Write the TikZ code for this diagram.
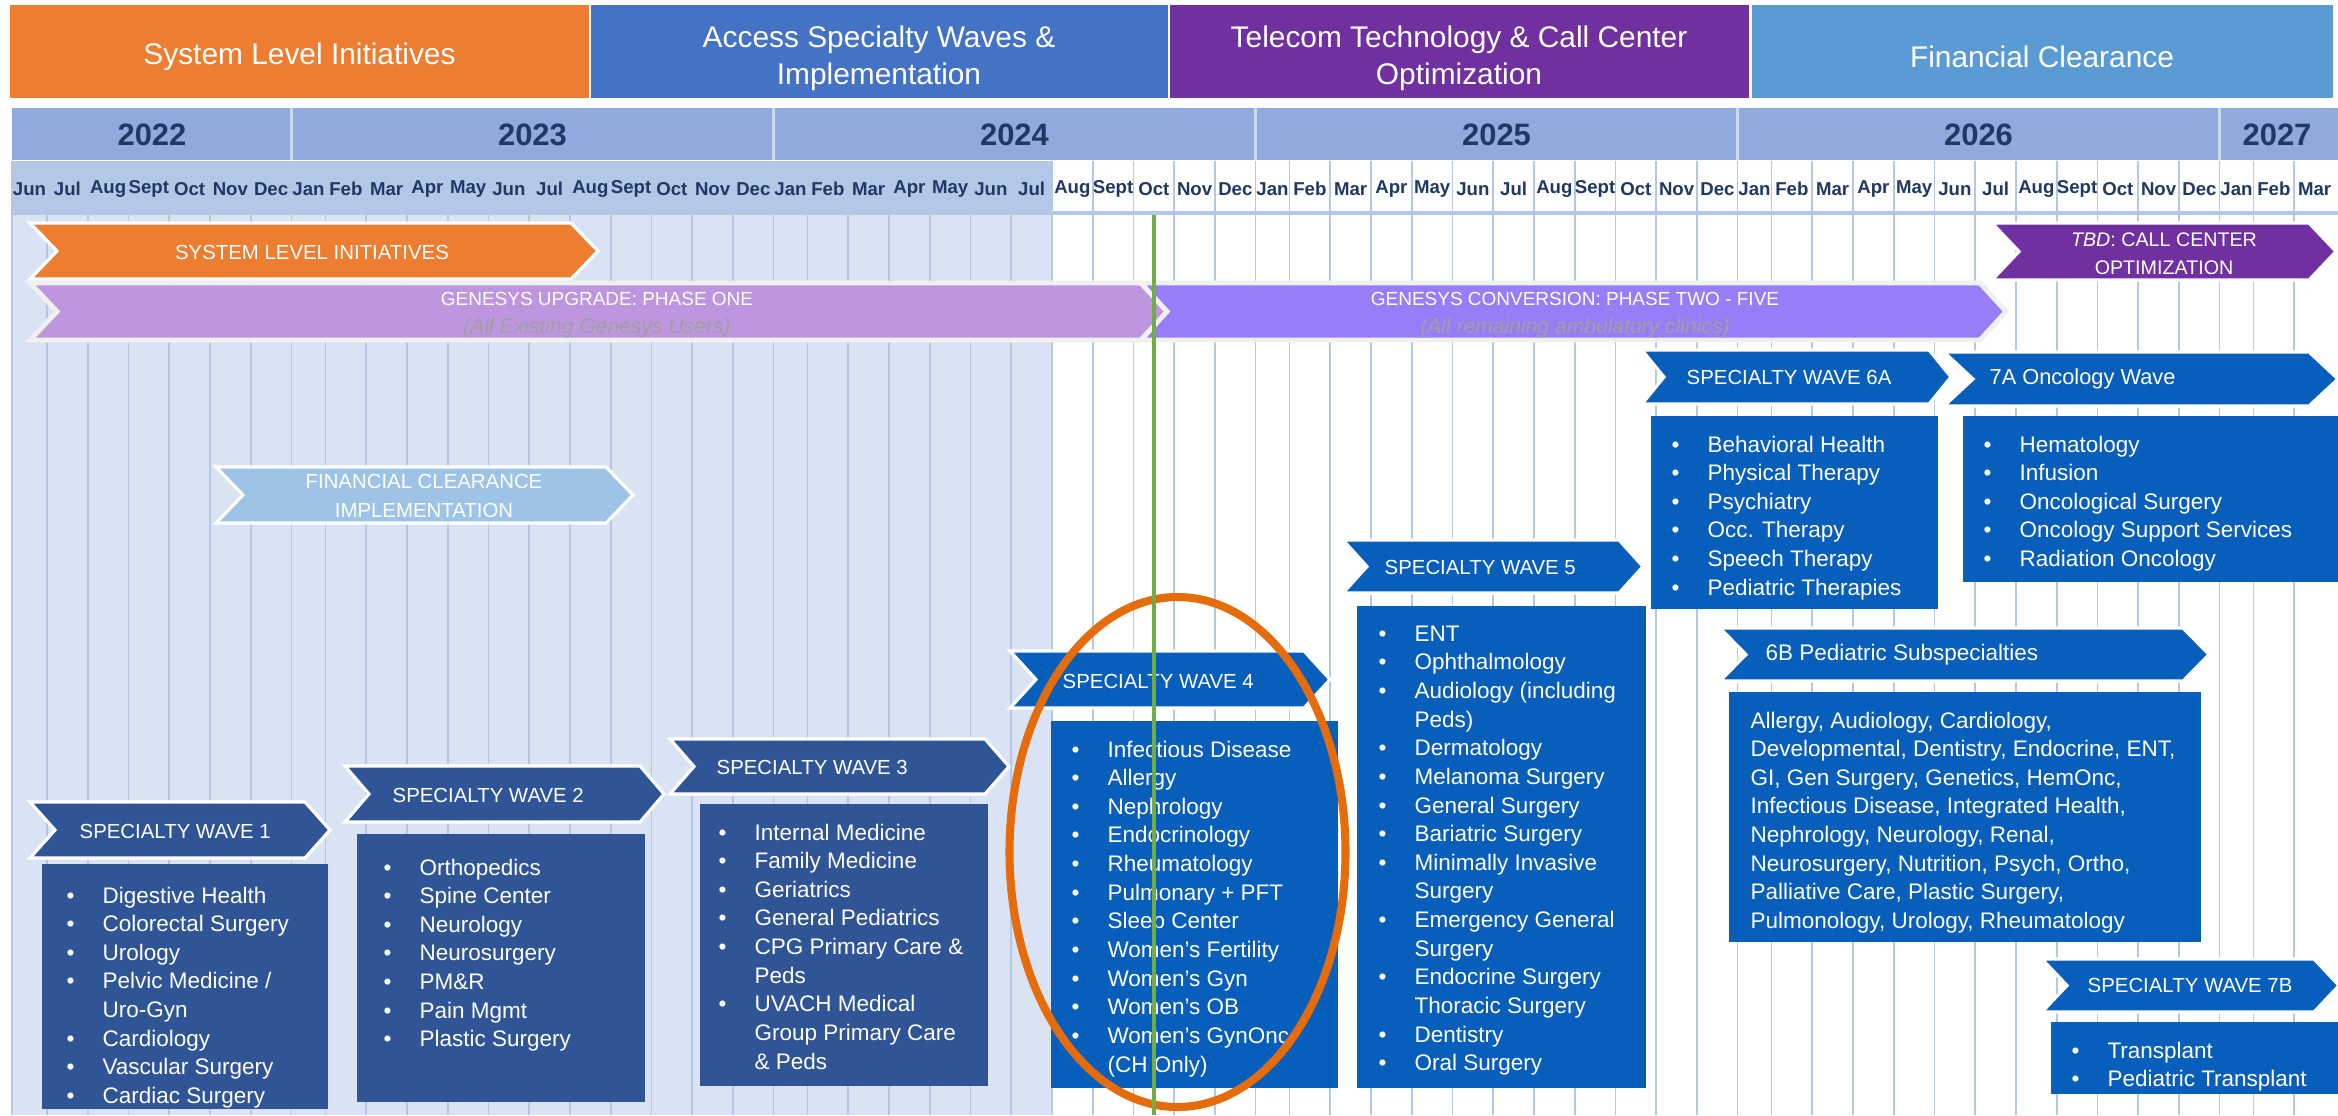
\documentclass[tikz,border=0pt]{standalone}
\usepackage{fontspec}
\setmainfont{Liberation Sans}
\usetikzlibrary{calc}

\definecolor{hdrorange}{HTML}{ED7D31}
\definecolor{hdrblue}{HTML}{4472C4}
\definecolor{hdrpurple}{HTML}{7030A0}
\definecolor{hdrsky}{HTML}{5B9BD5}
\definecolor{yearfill}{HTML}{8FAADC}
\definecolor{monthfill}{HTML}{B4C7E7}
\definecolor{pastfill}{HTML}{DAE3F3}
\definecolor{gridblue}{HTML}{B4C7E7}
\definecolor{navytext}{HTML}{1F3864}
\definecolor{waveold}{HTML}{2F5597}
\definecolor{wavenew}{RGB}{8,94,187}
\definecolor{genone}{RGB}{190,149,223}
\definecolor{gentwo}{RGB}{152,125,248}
\definecolor{fcblue}{HTML}{9DC3E6}
\definecolor{nowgreen}{HTML}{70AD47}
\definecolor{ringorange}{RGB}{228,108,10}
\definecolor{subgray}{RGB}{160,160,160}

% chevron: x left, y top, x back edge, y bottom, depth, extra style
\newcommand{\chevshape}[6]{%
  \filldraw[chevline,#6] (#1,#2) -- (#3,#2) -- ({#3+#5},{(#2+#4)/2}) -- (#3,#4)
    -- (#1,#4) -- ({#1+#5},{(#2+#4)/2}) -- cycle;}
\newcommand{\lbul}{\makebox[10.2pt][l]{\textbullet}}
\newcommand{\lind}{\hspace*{10.2pt}}

\begin{document}
\begin{tikzpicture}[x=0.1mm, y=-0.1mm,
  hdrtext/.style={text=white, font=\fontsize{8.5}{10.5}\selectfont, align=center},
  yeartext/.style={text=navytext, font=\fontsize{8.8}{10}\selectfont\bfseries},
  monthtext/.style={text=navytext, font=\fontsize{5.3}{6}\selectfont\bfseries, inner sep=0},
  chevline/.style={draw=white, line width=0.9pt},
  chevtext/.style={text=white, font=\fontsize{5.8}{7}\selectfont, anchor=west, inner sep=0},
  listtext/.style={text=white, font=\fontsize{6.4}{8.15}\selectfont, align=left, anchor=north west, inner sep=0},
  gridline/.style={draw=gridblue, line width=0.45pt}]

\useasboundingbox (0,0) rectangle (2338,1115);

% header bands
\fill[hdrorange] (10,5) rectangle (589,98);
\fill[hdrblue] (591,5) rectangle (1168,98);
\fill[hdrpurple] (1170,5) rectangle (1749,98);
\fill[hdrsky] (1752,5) rectangle (2333,98);
\node[hdrtext] (hsys) at (299.5,57) {System Level Initiatives};
\node[hdrtext] (hacc) at (879,58) {Access Specialty Waves \&\\Implementation};
\node[hdrtext] (htel) at (1459,58) {Telecom Technology \& Call Center\\Optimization};
\node[hdrtext] (hfin) at (2042,57) {Financial Clearance};

% years
\fill[yearfill] (12,108) rectangle (2338,160);
\foreach \x in {291.5,773.5,1255.5,1737.5,2219.5}
    \draw[white!55!yearfill, line width=0.6pt] (\x,108) -- (\x,160);
\foreach \yr/\x in {2022/152,2023/532.5,2024/1014.5,2025/1496.5,2026/1978.5,2027/2277}
    \node[yeartext] (y\yr) at (\x,135) {\yr};

% months and grid
\fill[monthfill] (12,161) rectangle (1052,213);
\fill[pastfill] (12,213) rectangle (1052,1115);
\draw[gridline] (12,161) -- (12,1115);
\foreach \k in {0,...,5}
    \draw[gridline] ({47+40.75*\k},161) -- ({47+40.75*\k},1115);
\foreach \ys in {291.5,773.5,1255.5,1737.5}{
    \draw[gridline] (\ys,161) -- (\ys,1115);
    \foreach \k in {0,...,10}
        \draw[gridline] ({\ys+34+40.75*\k},161) -- ({\ys+34+40.75*\k},1115);
}
\foreach \x in {2219.5,2253.5,2294.25}
    \draw[gridline] (\x,161) -- (\x,1115);
\draw[gridblue, line width=1pt] (12,213) -- (2338,213);

\node[monthtext] (m22-0) at (29.5,189) {Jun};
\foreach \mn [count=\k] in {Jul,Aug,Sept,Oct,Nov,Dec}
    \node[monthtext] (m22-\k) at ({47+40.75*(\k-0.5)},189) {\mn};
\foreach \ys [count=\yi] in {291.5,773.5,1255.5,1737.5}{
    \node[monthtext] (m\yi-1) at ({\ys+17},189) {Jan};
    \foreach \mn [count=\k from 2] in {Feb,Mar,Apr,May,Jun,Jul,Aug,Sept,Oct,Nov,Dec}
        \node[monthtext] (m\yi-\k) at ({\ys+34+40.75*(\k-1.5)},189) {\mn};
}
\node[monthtext] (m27-1) at (2236.5,189) {Jan};
\node[monthtext] (m27-2) at (2273.9,189) {Feb};
\node[monthtext] (m27-3) at (2314.6,189) {Mar};

% initiative chevrons
\chevshape{30}{223}{571}{279}{27}{fill=hdrorange}
\node[chevtext, anchor=center] (sli) at (312,252) {SYSTEM LEVEL INITIATIVES};

\chevshape{30}{283}{1141}{340}{27}{fill=genone, draw=black!6, line width=1.4pt}
\chevshape{1141}{283}{1980}{340}{26}{fill=gentwo, draw=black!6, line width=1.4pt}
\node[chevtext, anchor=center, font=\fontsize{5.4}{6}\selectfont] (gen1) at (597,299) {GENESYS UPGRADE: PHASE ONE};
\node[chevtext, anchor=center, text=subgray, font=\fontsize{6}{7}\selectfont\itshape] (gen1sub) at (597,328) {(All Existing Genesys Users)};
\node[chevtext, anchor=center, font=\fontsize{5.4}{6}\selectfont] (gen2) at (1575,299) {GENESYS CONVERSION: PHASE TWO - FIVE};
\node[chevtext, anchor=center, text=subgray, font=\fontsize{6}{7}\selectfont\itshape] (gen2sub) at (1575,328) {(All remaining ambulatory clinics)};

\chevshape{1992}{223}{2309}{280}{27}{fill=hdrpurple}
\node[chevtext, anchor=center, align=center, font=\fontsize{5.6}{8}\selectfont] (tbd) at (2164,254) {\textit{TBD}: CALL CENTER\\OPTIMIZATION};

\chevshape{216}{467}{606}{523}{27}{fill=fcblue}
\node[chevtext, anchor=center, align=center, font=\fontsize{5.8}{8}\selectfont] (fci) at (424,496) {FINANCIAL CLEARANCE\\IMPLEMENTATION};

% specialty waves
\chevshape{30}{802}{305}{858}{25}{fill=waveold}
\node[chevtext] (w1) at (79,831) {SPECIALTY WAVE 1};
\fill[waveold] (42,864) rectangle (328,1109);
\node[listtext] (w1list) at (66,886) {\lbul Digestive Health\\ \lbul Colorectal Surgery\\ \lbul Urology\\
  \lbul Pelvic Medicine /\\ \lind Uro-Gyn\\ \lbul Cardiology\\ \lbul Vascular Surgery\\ \lbul Cardiac Surgery};

\chevshape{345}{766}{640}{822}{24}{fill=waveold}
\node[chevtext] (w2) at (392,795) {SPECIALTY WAVE 2};
\fill[waveold] (357,834) rectangle (645,1102);
\node[listtext] (w2list) at (383,858) {\lbul Orthopedics\\ \lbul Spine Center\\ \lbul Neurology\\
  \lbul Neurosurgery\\ \lbul PM\&R\\ \lbul Pain Mgmt\\ \lbul Plastic Surgery};

\chevshape{670}{739}{985}{794}{24}{fill=waveold}
\node[chevtext] (w3) at (716,767) {SPECIALTY WAVE 3};
\fill[waveold] (700,804) rectangle (988,1086);
\node[listtext] (w3list) at (718,823) {\lbul Internal Medicine\\ \lbul Family Medicine\\ \lbul Geriatrics\\
  \lbul General Pediatrics\\ \lbul CPG Primary Care \&\\ \lind Peds\\ \lbul UVACH Medical\\
  \lind Group Primary Care\\ \lind \& Peds};

\chevshape{1010}{651}{1304}{708}{26}{fill=wavenew}
\node[chevtext] (w4) at (1062,681) {SPECIALTY WAVE 4};
\fill[wavenew] (1051,721) rectangle (1338,1088);
\node[listtext] (w4list) at (1071,740) {\lbul Infectious Disease\\ \lbul Allergy\\ \lbul Nephrology\\
  \lbul Endocrinology\\ \lbul Rheumatology\\ \lbul Pulmonary + PFT\\ \lbul Sleep Center\\
  \lbul Women’s Fertility\\ \lbul Women’s Gyn\\ \lbul Women’s OB\\ \lbul Women’s GynOnc\\ \lind (CH Only)};

\chevshape{1343}{540}{1619}{593}{24}{fill=wavenew}
\node[chevtext] (w5) at (1384,567) {SPECIALTY WAVE 5};
\fill[wavenew] (1357,606) rectangle (1646,1088);
\node[listtext] (w5list) at (1378,625) {\lbul ENT\\ \lbul Ophthalmology\\ \lbul Audiology (including\\ \lind Peds)\\
  \lbul Dermatology\\ \lbul Melanoma Surgery\\ \lbul General Surgery\\ \lbul Bariatric Surgery\\
  \lbul Minimally Invasive\\ \lind Surgery\\ \lbul Emergency General\\ \lind Surgery\\
  \lbul Endocrine Surgery\\ \lind Thoracic Surgery\\ \lbul Dentistry\\ \lbul Oral Surgery};

\chevshape{1642}{350}{1929}{404}{22}{fill=wavenew}
\node[chevtext] (w6a) at (1686,377) {SPECIALTY WAVE 6A};
\fill[wavenew] (1651,416) rectangle (1938,609);
\node[listtext] (w6alist) at (1671,435) {\lbul Behavioral Health\\ \lbul Physical Therapy\\ \lbul Psychiatry\\
  \lbul Occ. Therapy\\ \lbul Speech Therapy\\ \lbul Pediatric Therapies};

\chevshape{1944}{352}{2309}{406}{29}{fill=wavenew}
\node[chevtext, font=\fontsize{6.2}{7}\selectfont] (w7a) at (1989,379) {7A Oncology Wave};
\fill[wavenew] (1963,416) rectangle (2338,582);
\node[listtext] (w7alist) at (1983,435) {\lbul Hematology\\ \lbul Infusion\\ \lbul Oncological Surgery\\
  \lbul Oncology Support Services\\ \lbul Radiation Oncology};

\chevshape{1720}{628}{2183}{681}{26}{fill=wavenew}
\node[chevtext, font=\fontsize{6.4}{7}\selectfont] (w6b) at (1765,655) {6B Pediatric Subspecialties};
\fill[wavenew] (1729,692) rectangle (2201,942);
\node[listtext] (w6blist) at (1750,711) {Allergy, Audiology, Cardiology,\\ Developmental, Dentistry, Endocrine, ENT,\\
  GI, Gen Surgery, Genetics, HemOnc,\\ Infectious Disease, Integrated Health,\\ Nephrology, Neurology, Renal,\\
  Neurosurgery, Nutrition, Psych, Ortho,\\ Palliative Care, Plastic Surgery,\\ Pulmonology, Urology, Rheumatology};

\chevshape{2042}{959}{2314}{1012}{25}{fill=wavenew}
\node[chevtext] (w7b) at (2087,985) {SPECIALTY WAVE 7B};
\fill[wavenew] (2051,1022) rectangle (2338,1094);
\node[listtext] (w7blist) at (2071,1041) {\lbul Transplant\\ \lbul Pediatric Transplant};

% current focus and today line
\draw[ringorange, line width=2.3pt] (1177.5,852) ellipse [x radius=16.8mm, y radius=25.5mm];
\draw[nowgreen, line width=1pt] (1154,215) -- (1154,1115);

\end{tikzpicture}
\end{document}
